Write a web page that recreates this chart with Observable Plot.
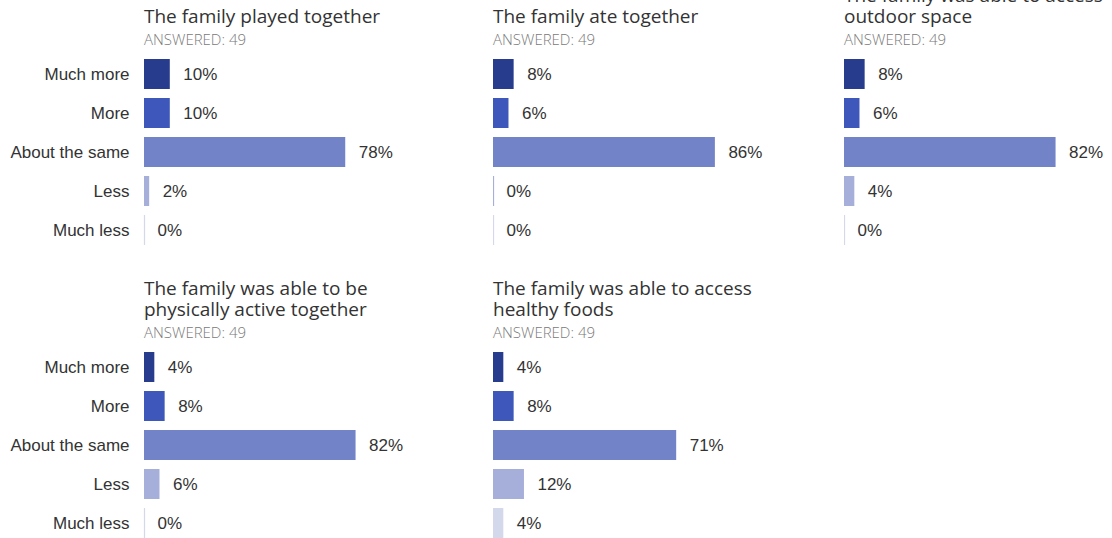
<!DOCTYPE html>
<html>
<head>
<meta charset="utf-8">
<script src="https://cdn.jsdelivr.net/npm/d3@7"></script>
<script src="https://cdn.jsdelivr.net/npm/@observablehq/plot@0.6"></script>
<style>
  html, body { margin: 0; padding: 0; background: #fff; overflow: hidden; }
  #root { position: relative; width: 1112px; height: 538px; overflow: hidden; }
  .panel { position: absolute; }
  .head { position: absolute; transform: translateY(-100%); width: 285px; }
  .title { font-family: "Open Sans", sans-serif; font-size: 19px; line-height: 21px; color: #333; }
  .answered { font-family: "Open Sans", sans-serif; font-size: 15px; font-weight: 300; line-height: 19px; color: #7a7a7a; margin-top: 3px; }
</style>
</head>
<body>
<div id="root"></div>
<script>
const categories = ["Much more", "More", "About the same", "Less", "Much less"];
const colors = ["#283c8e", "#3d57ba", "#7383c7", "#a6afd9", "#d4d8eb"];
const titles = [
  "The family played together",
  "The family ate together",
  "The family was able to access outdoor space",
  "The family was able to be physically active together",
  "The family was able to access healthy foods"
];
const answered = [49, 49, 49, 49, 49];
const played = [10, 10, 78, 2, 0];
const ate = [8, 6, 86, 0, 0];
const outdoor = [8, 6, 82, 4, 0];
const active = [4, 8, 82, 6, 0];
const foods = [4, 8, 71, 12, 4];
const series = [played, ate, outdoor, active, foods];

const root = document.getElementById("root");
const colStart = [144, 493, 844];
const rowTop = [0, 293];
const barSpan = 258;   // pixels for 100%
const plotH = 204;

series.forEach((vals, i) => {
  const col = i % 3, row = Math.floor(i / 3);
  const data = categories.map((c, k) => ({cat: c, value: vals[k]}));
  const ml = col === 0 ? colStart[0] : 0;
  const left = colStart[col] - ml;
  const width = ml + barSpan + 70;

  const head = document.createElement("div");
  head.className = "head";
  head.style.left = colStart[col] + "px";
  head.style.top = (rowTop[row] + 49) + "px";
  head.innerHTML = `<div class="title">${titles[i]}</div><div class="answered">ANSWERED: ${answered[i]}</div>`;
  root.appendChild(head);

  const chart = Plot.plot({
    width, height: plotH,
    marginLeft: ml, marginRight: 70, marginTop: 0, marginBottom: 0,
    style: {fontFamily: "'Liberation Sans', Arial, sans-serif", fontSize: "17px", color: "#333", background: "transparent", maxWidth: "none"},
    x: {domain: [0, 100], range: [ml, ml + barSpan], axis: null},
    y: {domain: categories, range: [0, plotH], padding: 0.23, axis: col === 0 ? "left" : null, tickSize: 0, tickPadding: 15, label: null},
    color: {domain: categories, range: colors},
    marks: [
      Plot.barX(data, {x: "value", y: "cat", fill: "cat"}),
      Plot.tickX(data.filter(d => d.value === 0), {x: "value", y: "cat", stroke: "cat", strokeWidth: 1.2}),
      Plot.text(data, {x: "value", y: "cat", text: d => d.value + "%", textAnchor: "start", dx: 13, fill: "#333", fontSize: 17})
    ]
  });
  const wrap = document.createElement("div");
  wrap.className = "panel";
  wrap.style.left = left + "px";
  wrap.style.top = (rowTop[row] + 50) + "px";
  wrap.style.width = width + "px";
  wrap.appendChild(chart);
  root.appendChild(wrap);
});
</script>
</body>
</html>
